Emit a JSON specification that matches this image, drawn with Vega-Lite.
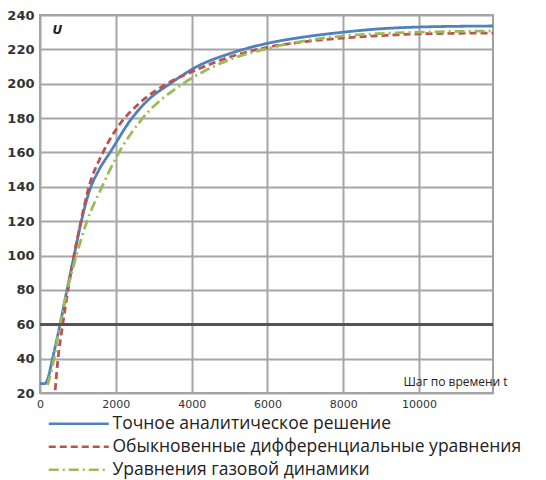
{
  "$schema": "https://vega.github.io/schema/vega-lite/v6.json",
  "width": 453,
  "height": 378,
  "autosize": "none",
  "padding": {"left": 40, "top": 15, "right": 53, "bottom": 87},
  "background": "white",
  "config": {
    "view": {"stroke": "#a0a0a0", "strokeWidth": 2},
    "font": "DejaVu Sans",
    "axis": {"labelOverlap": false},
    "axisY": {"labelOverlap": false}
  },
  "data": {
    "values": [
      {"series": "Точное аналитическое решение", "t": 0, "U": 25.5},
      {"series": "Точное аналитическое решение", "t": 130, "U": 25.5},
      {"series": "Точное аналитическое решение", "t": 200, "U": 28},
      {"series": "Точное аналитическое решение", "t": 330, "U": 40},
      {"series": "Точное аналитическое решение", "t": 530, "U": 60},
      {"series": "Точное аналитическое решение", "t": 712, "U": 80},
      {"series": "Точное аналитическое решение", "t": 900, "U": 100},
      {"series": "Точное аналитическое решение", "t": 1090, "U": 120},
      {"series": "Точное аналитическое решение", "t": 1310, "U": 138},
      {"series": "Точное аналитическое решение", "t": 1560, "U": 150},
      {"series": "Точное аналитическое решение", "t": 1847, "U": 160},
      {"series": "Точное аналитическое решение", "t": 2427, "U": 180},
      {"series": "Точное аналитическое решение", "t": 2850, "U": 190.5},
      {"series": "Точное аналитическое решение", "t": 3430, "U": 200},
      {"series": "Точное аналитическое решение", "t": 4142, "U": 210},
      {"series": "Точное аналитическое решение", "t": 5000, "U": 217.5},
      {"series": "Точное аналитическое решение", "t": 6000, "U": 223.5},
      {"series": "Точное аналитическое решение", "t": 7000, "U": 227.3},
      {"series": "Точное аналитическое решение", "t": 8000, "U": 230},
      {"series": "Точное аналитическое решение", "t": 9000, "U": 232},
      {"series": "Точное аналитическое решение", "t": 10000, "U": 233},
      {"series": "Точное аналитическое решение", "t": 11950, "U": 233.6},
      {"series": "Обыкновенные дифференциальные уравнения", "t": 400, "U": 21.7},
      {"series": "Обыкновенные дифференциальные уравнения", "t": 475, "U": 40},
      {"series": "Обыкновенные дифференциальные уравнения", "t": 600, "U": 60},
      {"series": "Обыкновенные дифференциальные уравнения", "t": 739, "U": 80},
      {"series": "Обыкновенные дифференциальные уравнения", "t": 897, "U": 100},
      {"series": "Обыкновенные дифференциальные уравнения", "t": 1082, "U": 120},
      {"series": "Обыкновенные дифференциальные уравнения", "t": 1266, "U": 138},
      {"series": "Обыкновенные дифференциальные уравнения", "t": 1662, "U": 160},
      {"series": "Обыкновенные дифференциальные уравнения", "t": 2058, "U": 175},
      {"series": "Обыкновенные дифференциальные уравнения", "t": 2638, "U": 189},
      {"series": "Обыкновенные дифференциальные уравнения", "t": 3350, "U": 200},
      {"series": "Обыкновенные дифференциальные уравнения", "t": 4222, "U": 209},
      {"series": "Обыкновенные дифференциальные уравнения", "t": 5000, "U": 215.5},
      {"series": "Обыкновенные дифференциальные уравнения", "t": 6000, "U": 221.2},
      {"series": "Обыкновенные дифференциальные уравнения", "t": 7000, "U": 224.5},
      {"series": "Обыкновенные дифференциальные уравнения", "t": 8000, "U": 226.6},
      {"series": "Обыкновенные дифференциальные уравнения", "t": 9000, "U": 228},
      {"series": "Обыкновенные дифференциальные уравнения", "t": 10000, "U": 229},
      {"series": "Обыкновенные дифференциальные уравнения", "t": 11950, "U": 229.5},
      {"series": "Уравнения газовой динамики", "t": 200, "U": 24.6},
      {"series": "Уравнения газовой динамики", "t": 370, "U": 40},
      {"series": "Уравнения газовой динамики", "t": 528, "U": 60},
      {"series": "Уравнения газовой динамики", "t": 720, "U": 80},
      {"series": "Уравнения газовой динамики", "t": 960, "U": 100},
      {"series": "Уравнения газовой динамики", "t": 1240, "U": 120},
      {"series": "Уравнения газовой динамики", "t": 1636, "U": 140},
      {"series": "Уравнения газовой динамики", "t": 2032, "U": 158},
      {"series": "Уравнения газовой динамики", "t": 2638, "U": 178},
      {"series": "Уравнения газовой динамики", "t": 3770, "U": 200},
      {"series": "Уравнения газовой динамики", "t": 4222, "U": 206},
      {"series": "Уравнения газовой динамики", "t": 5000, "U": 214},
      {"series": "Уравнения газовой динамики", "t": 6000, "U": 220.5},
      {"series": "Уравнения газовой динамики", "t": 7000, "U": 225},
      {"series": "Уравнения газовой динамики", "t": 8000, "U": 227.8},
      {"series": "Уравнения газовой динамики", "t": 9000, "U": 229.2},
      {"series": "Уравнения газовой динамики", "t": 10000, "U": 230},
      {"series": "Уравнения газовой динамики", "t": 11950, "U": 230.7}
    ]
  },
  "layer": [
    {
      "mark": {"type": "line", "interpolate": "monotone", "strokeWidth": 2.8},
      "encoding": {
        "x": {
          "field": "t", "type": "quantitative",
          "scale": {"domain": [0, 11950], "nice": false, "zero": false},
          "axis": {
            "values": [0, 2000, 4000, 6000, 8000, 10000],
            "format": "d",
            "title": "Шаг по времени t",
            "titleX": 415, "titleY": -5, "titleAlign": "center", "titleBaseline": "bottom",
            "titleFont": "Open Sans", "titleFontSize": 12, "titleFontWeight": "normal", "titleColor": "#222",
            "labelFontSize": 11, "labelColor": "#333", "labelPadding": 5,
            "ticks": false, "domain": false,
            "grid": true, "gridColor": "#a6a6a6", "gridWidth": 2,
            "labelFlush": false
          }
        },
        "y": {
          "field": "U", "type": "quantitative",
          "scale": {"domain": [20, 240], "nice": false, "zero": false},
          "axis": {
            "values": [20, 40, 60, 80, 100, 120, 140, 160, 180, 200, 220, 240],
            "labelOverlap": false,
            "title": "U",
            "titleAngle": 0, "titleX": 12, "titleY": 14, "titleAlign": "left", "titleBaseline": "middle",
            "titleFont": "DejaVu Sans", "titleFontSize": 12, "titleFontWeight": "bold", "titleFontStyle": "italic", "titleColor": "#222",
            "labelFontSize": 13, "labelFontWeight": "bold", "labelColor": "#333", "labelPadding": 6,
            "ticks": false, "domain": false,
            "grid": true, "gridColor": "#a6a6a6", "gridWidth": 2
          }
        },
        "color": {
          "field": "series", "type": "nominal",
          "scale": {
            "domain": ["Точное аналитическое решение", "Обыкновенные дифференциальные уравнения", "Уравнения газовой динамики"],
            "range": ["#4f81bd", "#c0504d", "#9bbb59"]
          },
          "legend": {
            "title": null, "orient": "none", "legendX": 30, "legendY": 400, "padding": 0,
            "symbolType": "M-6,0H6", "symbolSize": 100, "symbolStrokeWidth": 2.5,
            "labelFont": "Open Sans", "labelFontSize": 17.5, "labelColor": "#222", "labelOffset": 25,
            "rowPadding": 4, "labelLimit": 500
          }
        },
        "strokeDash": {
          "field": "series", "type": "nominal",
          "scale": {
            "domain": ["Точное аналитическое решение", "Обыкновенные дифференциальные уравнения", "Уравнения газовой динамики"],
            "range": [[1, 0], [7, 4], [10, 4, 2, 4]]
          },
          "legend": {
            "title": null, "orient": "none", "legendX": 30, "legendY": 400, "padding": 0,
            "symbolType": "M-6,0H6", "symbolSize": 100, "symbolStrokeWidth": 2.5,
            "labelFont": "Open Sans", "labelFontSize": 17.5, "labelColor": "#222", "labelOffset": 25,
            "rowPadding": 4, "labelLimit": 500
          }
        }
      }
    },
    {
      "mark": {"type": "rule", "color": "#555555", "strokeWidth": 2},
      "encoding": {
        "y": {
          "datum": 60, "type": "quantitative",
          "axis": {
            "values": [20, 40, 60, 80, 100, 120, 140, 160, 180, 200, 220, 240],
            "labelOverlap": false
          }
        }
      }
    }
  ]
}
